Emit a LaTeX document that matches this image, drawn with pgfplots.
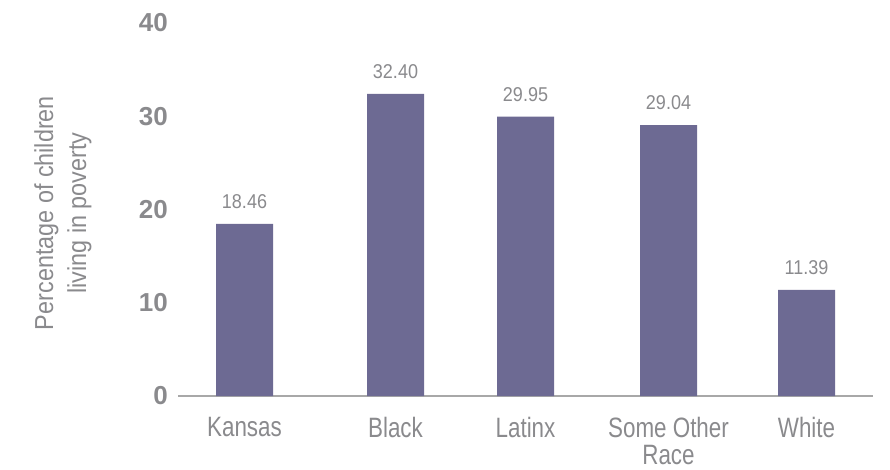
\documentclass[border=0pt]{standalone}
\usepackage{fontspec}
\setmainfont{Liberation Sans}[FakeStretch=0.8]
\newfontfamily\tickfont{Liberation Sans}
\newfontfamily\ylabfont{Liberation Sans}[FakeStretch=0.9]
\newfontfamily\numfont{Liberation Sans}[FakeStretch=0.9]
\usepackage{pgfplots}
\pgfplotsset{compat=1.18}
\definecolor{barcol}{HTML}{6D6A93}
\definecolor{txtgray}{HTML}{8A8A8D}
\definecolor{axgray}{HTML}{A8A8A8}
\begin{document}
\begin{tikzpicture}
\useasboundingbox (0,0) rectangle (890pt,469pt);
\begin{axis}[
  at={(178pt,73pt)}, anchor=south west,
  scale only axis, width=695pt, height=373pt,
  xmin=178, xmax=873, ymin=0, ymax=40,
  ybar, bar width=57pt,
  axis line style={draw=none},
  major tick length=0pt,
  ytick={0,10,20,30,40},
  xtick=data,
  xticklabels={Kansas,Black,Latinx,{Some Other\\Race},White},
  xticklabel style={font=\fontsize{28}{27}\selectfont, color=txtgray, anchor=north, inner sep=0pt, yshift=-21pt, align=center},
  yticklabel style={font=\tickfont\bfseries\fontsize{26}{30}\selectfont, color=txtgray, anchor=east, inner sep=0pt, xshift=-10pt},
  /pgf/number format/assume math mode=true,
  extra y ticks={0}, extra y tick labels={},
  extra y tick style={grid=major, major grid style={draw=axgray, line width=2pt}},
  ylabel={Percentage of children\\living in poverty},
  ylabel style={at={(axis description cs:-0.1655,0.4906)}, anchor=center, align=center, font=\ylabfont\fontsize{26}{33}\selectfont, color=txtgray},
  nodes near coords,
  nodes near coords style={font=\numfont\fontsize{20}{24}\selectfont, color=txtgray, anchor=south, inner sep=0pt, yshift=15pt, /pgf/number format/.cd, fixed, fixed zerofill, precision=2},
]
\addplot[fill=barcol, draw=none] coordinates {
  (244.5,18.46) (395.5,32.40) (525.5,29.95) (668.5,29.04) (806.5,11.39)
};
\end{axis}
\end{tikzpicture}
\end{document}
